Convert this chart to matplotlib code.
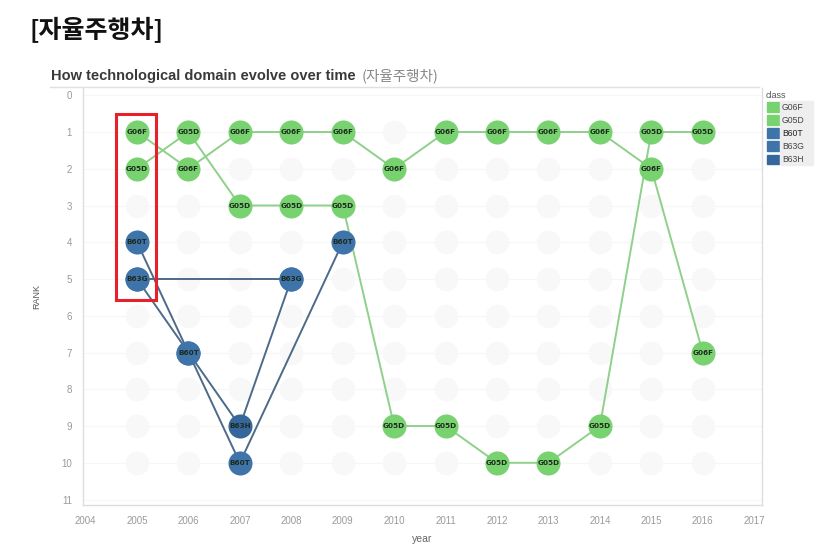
import matplotlib
matplotlib.use("Agg")
import matplotlib.pyplot as plt
from matplotlib.patches import Rectangle

plt.rcParams['font.family'] = ['Liberation Sans', 'DejaVu Sans', 'Noto Sans CJK KR']

years = [2005, 2006, 2007, 2008, 2009, 2010, 2011, 2012, 2013, 2014, 2015, 2016]
g06f_rank = [1, 2, 1, 1, 1, 2, 1, 1, 1, 1, 2, 7]
g05d_rank = [2, 1, 3, 3, 3, 9, 9, 10, 10, 9, 1, 1]
b60t_years = [2005, 2006, 2007, 2009]
b60t_rank = [4, 7, 10, 4]
b63g_years = [2005, 2008]
b63g_rank = [5, 5]
b63h_years = [2005, 2006, 2007, 2008]
b63h_rank = [5, 7, 9, 5]
classes = ['G06F', 'G05D', 'B60T', 'B63G', 'B63H']
x_ticks = list(range(2004, 2018))
y_ticks = list(range(0, 12))
bg_ranks = list(range(1, 11))

green = '#77d26f'
green_line = '#8fd08a'
blue = '#3f74ab'
blue2 = '#35679c'
blue_line = '#4d6a88'

fig = plt.figure(figsize=(8.30, 5.46), dpi=100)
ax = fig.add_axes([0.100, 0.075, 0.818, 0.764])

# faint background placeholders
for yr in years:
    ax.scatter([yr] * len(bg_ranks), bg_ranks, s=290, color='#f8f8f8', zorder=1, linewidths=0)

def draw(xs, ys, col, lcol, lab, lz=2, mz=3):
    ax.plot(xs, ys, color=lcol, lw=1.4, zorder=lz, solid_capstyle='round')
    ax.scatter(xs, ys, s=300, color=col, zorder=mz, linewidths=0)
    for x, y in zip(xs, ys):
        ax.text(x, y, lab, ha='center', va='center', fontsize=5.2, fontweight='bold',
                family=['DejaVu Sans'], color='#1e2a1e', zorder=mz + 0.5)

draw(b63h_years, b63h_rank, blue2, blue_line, 'B63H', 2, 3)
draw(b63g_years, b63g_rank, blue, blue_line, 'B63G', 2, 4)
draw(b60t_years, b60t_rank, blue, blue_line, 'B60T', 2, 5)
draw(years, g05d_rank, green, green_line, 'G05D', 2, 6)
draw(years, g06f_rank, green, green_line, 'G06F', 2, 7)

# red highlight box
ax.add_patch(Rectangle((2004.59, 0.52), 0.78, 5.05, fill=False, edgecolor='#e8202a',
                       lw=2.2, zorder=10))

ax.set_xlim(2003.95, 2017.15)
ax.set_ylim(11.15, -0.2)
ax.set_xticks(x_ticks)
ax.set_xticklabels([str(v) for v in x_ticks], fontsize=7, color='#9a9a9a')
ax.set_yticks(y_ticks)
ax.set_yticklabels([str(v) for v in y_ticks], fontsize=7, color='#9a9a9a')
ax.tick_params(length=0, pad=8)
ax.set_xlabel('year', fontsize=7.5, color='#666666', labelpad=6)
ax.set_ylabel('RANK', fontsize=6.5, color='#555555', labelpad=14)
ax.spines['top'].set_visible(False)
for s in ['left', 'bottom', 'right']:
    ax.spines[s].set_color('#dddddd')
    ax.spines[s].set_linewidth(1.0)
ax.grid(axis='y', color='#f6f6f6', lw=0.8, zorder=0)
ax.set_axisbelow(True)

# titles
fig.text(0.036, 0.945, '[자율주행차]', fontsize=18, fontweight='bold', color='#111111',
         family=['Noto Sans CJK KR'], va='center')
t1 = fig.text(0.062, 0.853, 'How technological domain evolve over time ', fontsize=10.5,
              fontweight='bold', color='#3a3a3a', va='baseline')
ax.annotate('(자율주행차)', xy=(1, 0), xycoords=t1, xytext=(1, 0), textcoords='offset points',
            fontsize=10.5, color='#888888', va='bottom', ha='left', family=['Noto Sans CJK KR'],
            annotation_clip=False)
fig.add_artist(plt.Line2D([0.06, 0.915], [0.84, 0.84], color='#e0e0e0', lw=1.0))

# legend
fig.text(0.922, 0.826, 'class', fontsize=6.5, color='#555555', va='center')
leg_cols = [green, green, blue, blue, blue2]
for i, (c, col) in enumerate(zip(classes, leg_cols)):
    yy = 0.804 - i * 0.024
    fig.add_artist(Rectangle((0.924, yy - 0.009), 0.014, 0.018, color=col,
                             transform=fig.transFigure))
    fig.add_artist(Rectangle((0.940, yy - 0.011), 0.040, 0.022, color='#eeeeee',
                             transform=fig.transFigure))
    fig.text(0.942, yy, c, fontsize=6.2, color='#444444' if i != 2 else '#222222',
             va='center')

fig.savefig('out.png', dpi=100)
